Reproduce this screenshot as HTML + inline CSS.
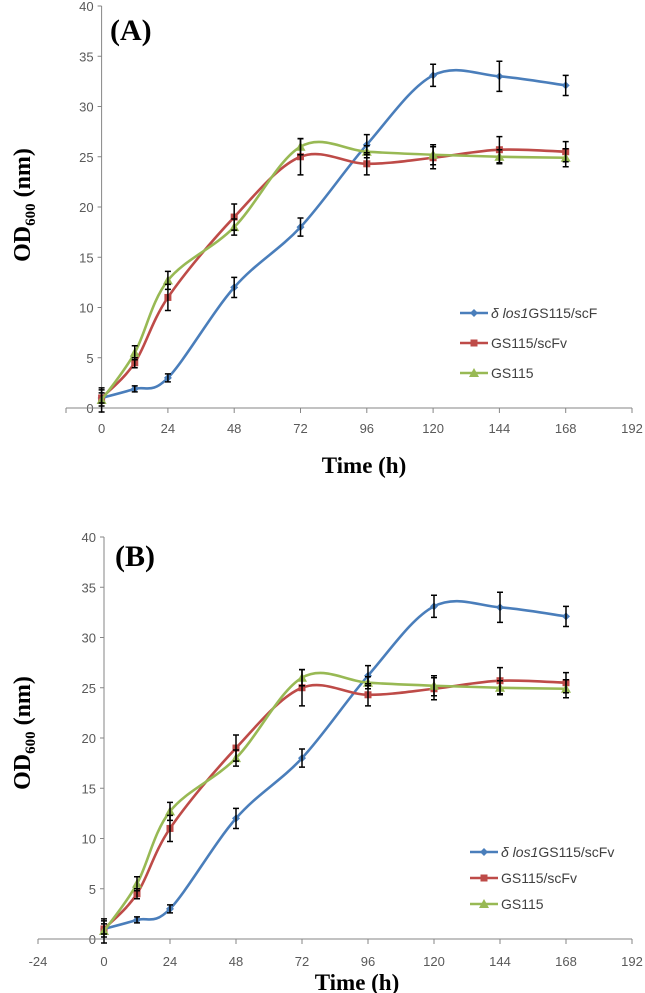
<!DOCTYPE html>
<html><head><meta charset="utf-8">
<style>
html,body{margin:0;padding:0;background:#fff;}
svg{display:block;}
.tk{font-family:"Liberation Sans",sans-serif;font-size:13px;fill:#595959;}
.ttl{font-family:"Liberation Serif",serif;font-weight:bold;fill:#000;}
.lg{font-family:"Liberation Sans",sans-serif;font-size:14px;fill:#404040;}
</style></head>
<body>
<svg id="fig" width="645" height="993" viewBox="0 0 645 993"></svg>
<script>
const hours = [0, 12, 24, 48, 72, 96, 120, 144, 168];
const blueVals = [1, 1.9, 3, 12, 18, 26.2, 33.1, 33, 32.1];
const blueErr = [0.5, 0.3, 0.4, 1, 0.9, 1, 1.1, 1.5, 1];
const redVals = [1, 4.5, 11, 19, 25, 24.3, 24.9, 25.7, 25.5];
const redErr = [0.8, 0.5, 1.3, 1.3, 1.8, 1.1, 1.1, 1.3, 1];
const greenVals = [0.8, 5.5, 12.7, 18, 26, 25.5, 25.2, 25, 24.9];
const greenErr = [1.2, 0.7, 0.9, 0.8, 0.8, 0.6, 1, 0.7, 0.9];
const yTicks = [0, 5, 10, 15, 20, 25, 30, 35, 40];
const xTicksA = [0, 24, 48, 72, 96, 120, 144, 168, 192];
const xTicksB = [-24, 0, 24, 48, 72, 96, 120, 144, 168, 192];

const NS = "http://www.w3.org/2000/svg";
const svg = document.getElementById('fig');
function mk(tag, attrs, parent, text){
  const e = document.createElementNS(NS, tag);
  for (const k in attrs) e.setAttribute(k, attrs[k]);
  if (text !== undefined) e.textContent = text;
  (parent || svg).appendChild(e);
  return e;
}
function smooth(pts){
  let d = "M" + pts[0][0] + "," + pts[0][1];
  for (let i = 0; i < pts.length - 1; i++){
    const p0 = pts[Math.max(0, i-1)], p1 = pts[i], p2 = pts[i+1], p3 = pts[Math.min(pts.length-1, i+2)];
    const t = 6;
    const c1x = p1[0] + (p2[0]-p0[0])/t, c1y = p1[1] + (p2[1]-p0[1])/t;
    const c2x = p2[0] - (p3[0]-p1[0])/t, c2y = p2[1] - (p3[1]-p1[1])/t;
    d += " C" + c1x + "," + c1y + " " + c2x + "," + c2y + " " + p2[0] + "," + p2[1];
  }
  return d;
}
function marker(g, kind, x, y, color){
  let m;
  if (kind === 'diamond') m = mk('polygon', {points:`${x},${y-4} ${x+4},${y} ${x},${y+4} ${x-4},${y}`, fill:color}, g);
  else if (kind === 'square') m = mk('rect', {x:x-3.5, y:y-3.5, width:7, height:7, fill:color}, g);
  else m = mk('polygon', {points:`${x},${y-5} ${x+5},${y+4} ${x-5},${y+4}`, fill:color}, g);
  return m;
}
function chart(cfg){
  const g = mk('g', {});
  
  
  const xs = h => cfg.x0 + h * cfg.px;
  const ys = v => cfg.y0 - v * cfg.py;
  // y axis
  const ya = mk('line', {x1:cfg.x0, y1:ys(40), x2:cfg.x0, y2:cfg.y0, stroke:'#868686', 'stroke-width':1}, g);
   
  yTicks.forEach(v => {
    mk('line', {x1:cfg.x0-4, y1:ys(v), x2:cfg.x0, y2:ys(v), stroke:'#868686'}, g);
    const t = mk('text', {x:cfg.x0-8, y:ys(v)+5, 'text-anchor':'end', class:'tk'}, g, String(v));
     
  });
  // x axis
  const xa = mk('line', {x1:cfg.xStart, y1:cfg.y0, x2:xs(192), y2:cfg.y0, stroke:'#868686'}, g);
   
  cfg.xTicks.forEach(h => {
    mk('line', {x1:xs(h), y1:cfg.y0, x2:xs(h), y2:cfg.y0+5, stroke:'#868686'}, g);
    const t = mk('text', {x:xs(h), y:cfg.tickY, 'text-anchor':'middle', class:'tk'}, g, String(h));
     
  });
  if (cfg.xStart < xs(cfg.xTicks[0])) mk('line', {x1:cfg.xStart, y1:cfg.y0, x2:cfg.xStart, y2:cfg.y0+5, stroke:'#868686'}, g);
  // series
  const series = [
    {name:'blue', vals:blueVals, err:blueErr, color:'#4a7ebb', kind:'diamond'},
    {name:'red', vals:redVals, err:redErr, color:'#be4b48', kind:'square'},
    {name:'green', vals:greenVals, err:greenErr, color:'#98b954', kind:'triangle'}
  ];
  series.forEach(s => {
    const sg = mk('g', {}, g);
    
    
    const pts = hours.map((h,i) => [xs(h), ys(s.vals[i])]);
    const p = mk('path', {d:smooth(pts), fill:'none', stroke:s.color, 'stroke-width':2.6}, sg);
     
    hours.forEach((h,i) => {
      const m = marker(sg, s.kind, xs(h), ys(s.vals[i]), s.color);
       
    });
  });
  series.forEach(s => {
    hours.forEach((h,i) => {
      const x = xs(h), a = ys(s.vals[i]+s.err[i]), b = ys(s.vals[i]-s.err[i]);
      const e = mk('path', {d:`M${x},${a}V${b}M${x-3},${a}H${x+3}M${x-3},${b}H${x+3}`, stroke:'#000', 'stroke-width':1.5, fill:'none'}, g);
       
    });
  });
  // legend
  const lgd = mk('g', {}, g);
   
  const labels = cfg.legendLabels;
  series.forEach((s,i) => {
    const y = cfg.legY[i];
    mk('line', {x1:cfg.legX, y1:y, x2:cfg.legX+28, y2:y, stroke:s.color, 'stroke-width':2.6}, lgd);
    marker(lgd, s.kind, cfg.legX+14, y, s.color);
    const t = mk('text', {x:cfg.legX+31, y:y+5, class:'lg'}, lgd);
     
    if (i === 0){
      mk('tspan', {'font-style':'italic'}, t, 'δ los1');
      mk('tspan', {}, t, labels[0]);
    } else t.textContent = labels[i];
  });
  // titles
  const pl = mk('text', {x:cfg.panelX, y:cfg.panelY, class:'ttl', 'font-size':30}, g, cfg.panel);
   
  const xt = mk('text', {x:cfg.xTitleX, y:cfg.xTitleY, class:'ttl', 'font-size':23, 'text-anchor':'middle'}, g, 'Time (h)');
   
  const yt = mk('text', {transform:`translate(${cfg.yTitleX},${cfg.yTitleY}) rotate(-90)`, class:'ttl', 'font-size':24, 'text-anchor':'middle'}, g);
   
  mk('tspan', {}, yt, 'OD');
  mk('tspan', {'font-size':15, dy:5}, yt, '600');
  mk('tspan', {dy:-5}, yt, ' (nm)');
}
chart({name:'chart-a', x0:101.6, px:530.4/192, y0:408, py:402/40, xStart:66, xTicks:xTicksA, tickY:433,
  legX:460, legY:[313,343,373], legendLabels:['GS115/scF','GS115/scFv','GS115'],
  panel:'(A)', panelX:110, panelY:40, xTitleX:364, xTitleY:473, yTitleX:30, yTitleY:205});
chart({name:'chart-b', x0:104, px:528/192, y0:939, py:402/40, xStart:38, xTicks:xTicksB, tickY:966,
  legX:470, legY:[852,878,904], legendLabels:['GS115/scFv','GS115/scFv','GS115'],
  panel:'(B)', panelX:115, panelY:566, xTitleX:357, xTitleY:990, yTitleX:30, yTitleY:733});
</script>
</body></html>
